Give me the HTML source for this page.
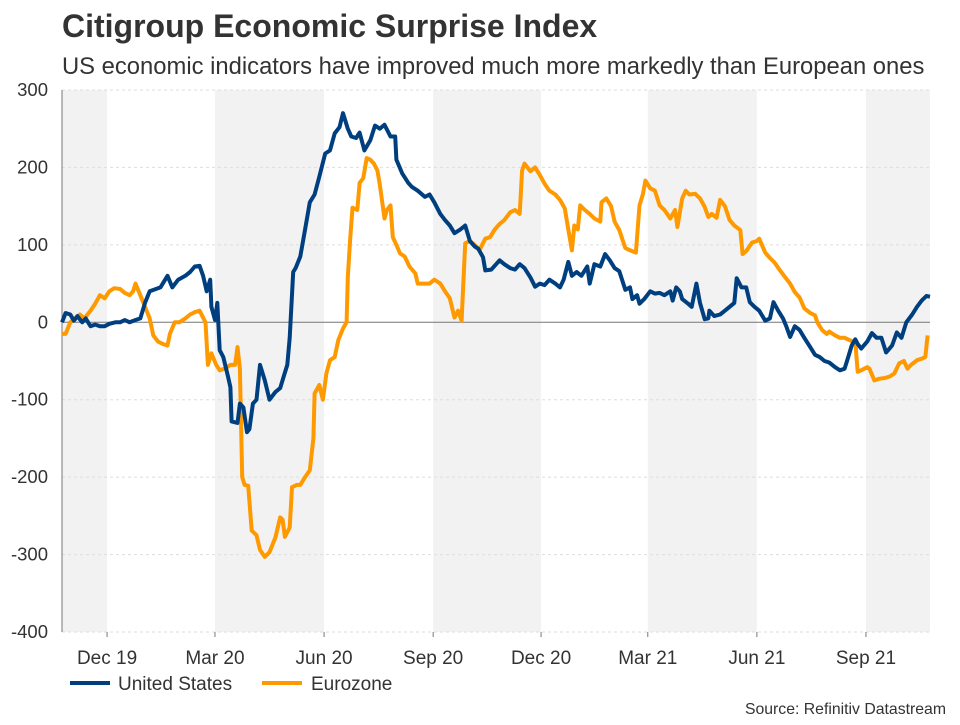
<!DOCTYPE html>
<html><head><meta charset="utf-8">
<style>
body{margin:0;background:#fff;width:960px;height:720px;overflow:hidden;font-family:"Liberation Sans",Arial,sans-serif;}
svg text{font-family:"Liberation Sans",Arial,sans-serif;}
</style></head>
<body>
<svg id="chart" width="960" height="720" viewBox="0 0 960 720">
<text x="62" y="37" font-size="32" font-weight="bold" fill="#333">Citigroup Economic Surprise Index</text>
<text x="62" y="74" font-size="23.8" fill="#333">US economic indicators have improved much more markedly than European ones</text>
<g id="bands"></g><g id="grid"></g><g id="yticks"></g><g id="xticks"></g><g id="lines"></g>
<g>
<line x1="70" y1="683" x2="110" y2="683" stroke="#003f7f" stroke-width="4"/>
<text x="118" y="690" font-size="19" fill="#333">United States</text>
<line x1="262" y1="683" x2="302" y2="683" stroke="#ff9900" stroke-width="4"/>
<text x="311" y="690" font-size="19" fill="#333">Eurozone</text>
</g>
<text x="946" y="714" font-size="15.8" fill="#333" text-anchor="end">Source: Refinitiv Datastream</text>
</svg>
<script>
// days since 2019-10-24
const usDays=[0,3,7,10,13,17,20,24,28,32,36,40,45,49,53,57,62,66,70,74,83,89,93,98,104,108,112,116,119,122,125,126,129,131,133,136,140,142,143,148,150,153,156,158,161,164,167,171,175,180,184,187,190,192,195,197,201,205,209,213,217,222,226,230,234,237,241,244,248,251,255,260,264,268,272,277,281,282,287,292,295,300,306,310,314,319,323,327,331,336,340,344,348,351,355,357,362,369,373,378,382,386,390,395,399,403,407,411,416,420,423,427,430,434,438,443,445,449,454,458,462,466,470,475,479,481,485,487,491,496,500,504,508,513,515,518,521,523,528,531,535,538,542,545,546,550,555,559,563,567,569,573,577,580,584,588,593,597,600,604,608,611,614,618,622,626,631,635,639,643,647,652,656,660,663,666,669,671,674,679,683,687,691,695,700,704,708,712,717,721,725,729,732];
const usValues=[0,12,10,2,8,0,5,-5,-3,-5,-5,-2,0,0,3,0,3,5,25,40,45,60,45,55,60,65,72,73,60,40,55,20,3,25,-36,-45,-70,-84,-128,-130,-105,-110,-142,-138,-105,-100,-55,-75,-100,-90,-85,-70,-55,-20,65,70,85,120,155,165,188,218,222,244,252,270,250,240,238,245,222,235,254,250,255,240,240,210,192,180,175,170,162,165,155,140,132,125,115,120,125,105,98,95,84,67,68,80,75,70,68,75,70,58,46,50,48,55,50,45,55,78,60,65,60,72,50,75,72,88,80,70,66,42,45,30,35,24,30,40,37,38,35,40,28,45,40,30,24,20,50,25,4,5,15,8,10,15,20,25,57,45,45,26,20,15,2,5,26,15,5,-6,-19,-5,-10,-20,-32,-42,-45,-50,-52,-58,-62,-60,-45,-30,-22,-28,-34,-25,-14,-20,-20,-39,-30,-13,-20,0,10,20,28,34,33];
const euDays=[0,3,7,11,15,19,24,28,32,36,40,44,49,53,57,60,62,66,70,74,77,81,85,89,91,95,99,104,108,112,116,121,123,126,130,133,137,142,146,148,150,152,154,157,160,164,167,171,175,180,184,186,188,192,194,198,201,205,209,212,213,217,220,223,226,230,233,237,240,241,243,245,249,251,254,257,260,263,266,268,272,274,277,279,282,285,289,293,298,300,306,310,314,319,323,327,331,334,337,340,344,348,352,357,361,365,369,373,378,382,386,388,390,395,399,403,407,411,416,420,424,427,430,432,435,437,441,445,449,454,455,459,463,466,470,475,479,484,487,490,492,496,500,504,508,513,517,519,523,526,529,534,538,542,545,548,552,555,559,563,567,572,574,577,582,586,588,593,597,601,605,610,614,618,622,626,631,635,637,641,645,647,652,656,660,664,669,671,674,679,681,685,689,694,698,702,706,710,713,716,721,725,728,730];
const euValues=[-15,-15,0,5,10,5,15,24,35,31,40,44,43,38,35,40,50,35,20,5,-17,-25,-28,-30,-15,0,0,5,10,13,15,0,-55,-40,-55,-62,-60,-55,-55,-32,-60,-200,-210,-211,-269,-275,-294,-303,-297,-278,-252,-255,-277,-265,-213,-210,-210,-200,-191,-150,-92,-81,-100,-66,-49,-45,-23,-8,0,58,106,148,145,180,186,212,210,205,196,178,134,145,151,110,100,89,85,72,63,50,50,50,55,50,40,31,6,15,2,102,105,100,93,108,110,120,127,132,142,145,140,196,205,195,200,190,179,170,165,158,147,120,93,125,120,151,145,140,134,130,155,160,150,130,119,96,93,90,151,166,183,173,170,151,145,134,145,123,160,170,165,166,160,149,136,140,135,158,150,132,125,119,88,92,103,105,108,90,83,77,68,58,50,39,32,18,12,9,0,-10,-15,-12,-17,-20,-20,-23,-26,-64,-62,-58,-60,-75,-73,-72,-70,-66,-53,-50,-60,-55,-49,-47,-45,-17];
const yTicks=[300,200,100,0,-100,-200,-300,-400];
const xLabels=["Dec 19","Mar 20","Jun 20","Sep 20","Dec 20","Mar 21","Jun 21","Sep 21"];
const xLabelDays=[38,129,221,313,404,494,586,678];
const bandStart=[0,129,313,494,678];
const bandEnd=[38,221,404,586,732];

const NS="http://www.w3.org/2000/svg";
const X0=62,X1=930,Y0=90,Y1=632,DMAX=732,VMIN=-400,VMAX=300;
const xs=d=>X0+(d/DMAX)*(X1-X0);
const ys=v=>Y0+(VMAX-v)/(VMAX-VMIN)*(Y1-Y0);
function mk(tag,attrs,parent){const e=document.createElementNS(NS,tag);for(const k in attrs)e.setAttribute(k,attrs[k]);document.getElementById(parent).appendChild(e);return e;}

bandStart.forEach((s,i)=>{
  const r=mk('rect',{x:xs(s),y:Y0,width:xs(bandEnd[i])-xs(s),height:Y1-Y0,fill:'#f2f2f2'},'bands');
  
  
});
yTicks.forEach(v=>{
  const l=mk('line',{x1:X0,x2:X1,y1:ys(v),y2:ys(v),stroke:v===0?'#777':'#ddd','stroke-width':1,'stroke-dasharray':v===0?'none':'3,3'},'grid');
  
  
  const t=mk('text',{x:48,y:ys(v)+6,'font-size':18.5,fill:'#333','text-anchor':'end'},'yticks');
  t.textContent=v;
  
  
});
const ax=mk('line',{x1:X0,x2:X0,y1:Y0,y2:Y1,stroke:'#777'},'yticks');


xLabelDays.forEach((d,i)=>{
  const tk=mk('line',{x1:xs(d),x2:xs(d),y1:Y1,y2:Y1+5,stroke:'#777'},'xticks');
  
  
  const t=mk('text',{x:xs(d),y:664,'font-size':19,fill:'#333','text-anchor':'middle'},'xticks');
  t.textContent=xLabels[i];
  
  
});
function line(days,vals,color,name){
  const d=days.map((dd,i)=>(i?'L':'M')+xs(dd).toFixed(1)+','+ys(vals[i]).toFixed(1)).join('');
  const p=mk('path',{d:d,fill:'none',stroke:color,'stroke-width':4,'stroke-linejoin':'round'},'lines');
  
  
}
line(euDays,euValues,'#ff9900','eurozone-line');
line(usDays,usValues,'#003f7f','us-line');
</script>
</body></html>
